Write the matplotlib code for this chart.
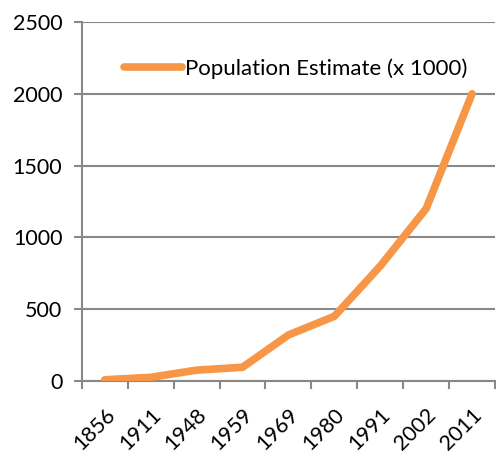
import matplotlib
matplotlib.use("Agg")
import matplotlib.pyplot as plt

years = ["1856", "1911", "1948", "1959", "1969", "1980", "1991", "2002", "2011"]
population = [8, 25, 75, 95, 320, 450, 800, 1200, 2000]
yticks = [0, 500, 1000, 1500, 2000, 2500]

plt.rcParams['font.family'] = ['Lato', 'DejaVu Sans']

fig = plt.figure(figsize=(4.96, 4.54), dpi=100)
ax = fig.add_axes([0.165, 0.161, 0.833, 0.7905])

x = list(range(len(years)))
ax.plot(x, population, color='#F79646', linewidth=5.5, solid_capstyle='round',
        solid_joinstyle='round', label='Population Estimate (x 1000)', zorder=3)

ax.set_xlim(-0.5, len(years) - 0.5)
ax.set_ylim(0, 2500)
ax.set_yticks(yticks)
ax.set_xticks([i - 0.5 for i in range(len(years) + 1)], minor=False)
ax.set_xticklabels([])
ax.set_xticks(x, minor=True)
ax.set_xticklabels(years, minor=True, rotation=45, ha='right', va='top',
                   rotation_mode='anchor', fontsize=15.5)
ax.tick_params(axis='x', which='minor', length=0, pad=17)
ax.tick_params(axis='x', which='major', length=6, width=1.5, color='#888888')
ax.tick_params(axis='y', length=6, width=1.5, color='#888888', labelsize=15.5, pad=8)

ax.grid(axis='y', color='#888888', linewidth=1.5, zorder=0)
for s in ['top', 'right']:
    ax.spines[s].set_visible(False)
ax.spines['left'].set_color('#888888')
ax.spines['left'].set_linewidth(1.5)
ax.spines['bottom'].set_color('#888888')
ax.spines['bottom'].set_linewidth(1.5)

ax.legend(loc='upper left', bbox_to_anchor=(0.08, 0.924), frameon=False, fontsize=16,
          handlelength=2.6, handletextpad=0.15, borderaxespad=0)

fig.savefig('out.png', dpi=100)
